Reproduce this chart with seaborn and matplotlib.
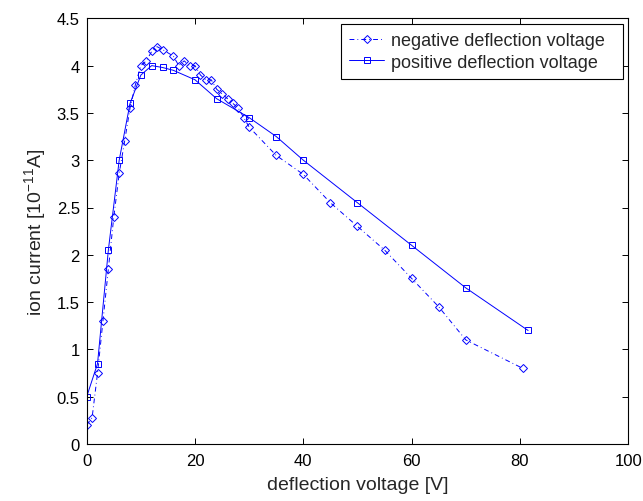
import matplotlib
matplotlib.use("Agg")
import matplotlib.pyplot as plt
import seaborn as sns
import pandas as pd

# ---- data ----
neg_x = [0, 1, 2, 3, 4, 5, 6, 7, 8, 9, 10, 11, 12, 13, 14, 16, 17, 18, 19, 20,
         21, 22, 23, 24, 25, 26, 27, 28, 29, 30, 35, 40, 45, 50, 55, 60, 65, 70, 80.5]
neg_y = [0.2, 0.28, 0.75, 1.3, 1.85, 2.4, 2.86, 3.2, 3.55, 3.8, 4.0, 4.05, 4.15, 4.2, 4.17,
         4.1, 4.0, 4.05, 4.0, 4.0, 3.9, 3.85, 3.85, 3.75, 3.7, 3.65, 3.6, 3.55, 3.45, 3.35,
         3.05, 2.85, 2.55, 2.3, 2.05, 1.75, 1.45, 1.1, 0.8]
pos_x = [0, 2, 4, 6, 8, 10, 12, 14, 16, 20, 24, 30, 35, 40, 50, 60, 70, 81.5]
pos_y = [0.5, 0.85, 2.05, 3.0, 3.6, 3.9, 4.0, 3.98, 3.95, 3.85, 3.65, 3.45, 3.25, 3.0,
         2.55, 2.1, 1.65, 1.2]
neg_label = "negative deflection voltage"
pos_label = "positive deflection voltage"
x_ticks = [0, 20, 40, 60, 80, 100]
y_ticks = [0, 0.5, 1, 1.5, 2, 2.5, 3, 3.5, 4, 4.5]
y_ticklabels = ["0", "0.5", "1", "1.5", "2", "2.5", "3", "3.5", "4", "4.5"]

sns.set_theme(style="ticks")
plt.rcParams["font.family"] = ["Liberation Sans", "DejaVu Sans"]
plt.rcParams["mathtext.fontset"] = "custom"
plt.rcParams["mathtext.rm"] = "Liberation Sans"
plt.rcParams["mathtext.it"] = "Liberation Sans"
plt.rcParams["lines.scale_dashes"] = False

fig = plt.figure(figsize=(6.43, 5.02), dpi=100)
ax = fig.add_axes([86.7 / 643, 1 - 445 / 502, (628.3 - 86.7) / 643, (445 - 19.3) / 502])

df_neg = pd.DataFrame({"x": neg_x, "y": neg_y})
df_pos = pd.DataFrame({"x": pos_x, "y": pos_y})

blue = (0, 0, 1)
sns.lineplot(data=df_neg, x="x", y="y", ax=ax, estimator=None, sort=False,
             color=blue, lw=0.7, dashes=False, marker="D", markersize=4.3,
             markerfacecolor="none", markeredgecolor=blue, markeredgewidth=0.7,
             label=neg_label + "  ")
sns.lineplot(data=df_pos, x="x", y="y", ax=ax, estimator=None, sort=False,
             color=blue, lw=0.7, marker="s", markersize=4.0,
             markerfacecolor="none", markeredgecolor=blue, markeredgewidth=0.7,
             label=pos_label + "  ")
ax.lines[0].set_dashes([3.5, 2.2, 0.6, 2.2])

ax.set_xlim(0, 100)
ax.set_ylim(0, 4.5)
ax.set_xticks(x_ticks)
ax.set_xticklabels([str(t) for t in x_ticks])
ax.set_yticks(y_ticks)
ax.set_yticklabels(y_ticklabels)
ax.tick_params(direction="in", top=True, right=True, length=4, width=0.7,
               labelsize=12, colors="black")
ax.tick_params(axis="x", pad=6.5)
ax.tick_params(axis="y", pad=5)
for s in ax.spines.values():
    s.set_visible(True)
    s.set_linewidth(0.8)
    s.set_color("black")

ax.set_xlabel("deflection voltage [V]", fontsize=14, labelpad=6)
ax.set_ylabel(r"ion current [10$^{-11}$A]", fontsize=14, labelpad=6)

leg = ax.legend(loc="upper right", fontsize=13, frameon=True, fancybox=False,
                edgecolor="black", framealpha=1, borderaxespad=0.31,
                handlelength=1.95, handletextpad=0.35, borderpad=0.45,
                labelspacing=0.25)
leg.get_frame().set_linewidth(0.8)

fig.savefig("out.png", dpi=100)
